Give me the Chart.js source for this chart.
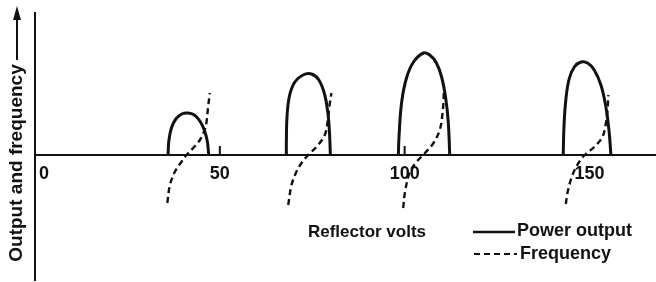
<!DOCTYPE html>
<html>
<head>
<meta charset="utf-8">
<script src="https://cdn.jsdelivr.net/npm/chart.js@4/dist/chart.umd.min.js"></script>
<style>
 html, body { margin: 0; padding: 0; background: #ffffff; }
 canvas { display: block; }
</style>
</head>
<body>
<canvas id="idCourbe" width="656" height="282"></canvas>
<script>
/******************************************* Valeurs **************************************************************************/
 var tickValues = [0, 50, 100, 150];                                                          /* Reflector volts, axe X */
 var tickLabels = ["0", "50", "100", "150"];
 var smallTicks = [50, 100];                                              /* Petits traits au dessus de l'axe sur l'original */

 /* Power output : [volts, output] */
 var power1 = [[36.0,0],[36.2,14],[36.9,27],[38.1,36],[39.7,41],[41.4,42],[43.1,40],[44.6,34],[45.8,25],[46.6,14],[47.0,0]];
 var power2 = [[68.0,0],[68.0,13],[68.2,40],[68.9,60],[70.3,73],[72.5,80],[74.8,81],[76.8,75],[78.4,60],[79.3,40],[79.7,20],[79.9,0]];
 var power3 = [[98.3,0],[98.5,20],[99.2,53],[100.5,77],[102.4,93],[105.1,102],[106.8,100],[108.6,92],[110.0,78],[111.1,57],[111.8,33],[112.2,0]];
 var power4 = [[142.9,0],[143.1,28],[143.6,55],[144.5,76],[145.9,88],[147.7,93],[149.5,92],[151.3,85],[153.1,70],[154.4,49],[155.3,24],[155.8,0]];

 /* Frequency : [volts, deviation] */
 var freq1 = [[35.8,-48],[36.5,-30],[37.8,-17],[39.4,-8],[41.0,0],[42.8,7],[44.6,15],[45.9,25],[46.4,33],[46.8,47],[47.3,62]];
 var freq2 = [[68.5,-50],[69.4,-30],[70.7,-17],[72.1,-8],[73.9,0],[76.1,8],[78.4,20],[79.3,37],[79.7,50],[80.2,62]];
 var freq3 = [[99.6,-53],[100.1,-37],[101.4,-17],[103.2,-7],[105.5,2],[107.8,12],[109.5,25],[110.2,40],[110.5,53],[110.6,63]];
 var freq4 = [[143.6,-49],[144.1,-37],[145.4,-20],[147.2,-7],[149.0,1],[151.3,8],[153.5,18],[154.4,31],[154.9,46],[155.1,60]];

 var xTitle = "Reflector volts";
 var yTitle = "Output and frequency";
 var encre  = "#111111";
 var police = "'Liberation Sans', Arial, sans-serif";

/******************************************* Construction des datasets ********************************************************/
 function Dataset_power ( valeurs )
  { return( { label: "Power output", data: valeurs, borderColor: encre, borderWidth: 3,
              pointRadius: 0, tension: 0.4, fill: false } ); }
 function Dataset_freq ( valeurs )
  { return( { label: "Frequency", data: valeurs, borderColor: encre, borderWidth: 2.4,
              borderDash: [6, 4], pointRadius: 0, tension: 0.35, fill: false } ); }

 var datasets = [ Dataset_power(power1), Dataset_power(power2), Dataset_power(power3), Dataset_power(power4),
                  Dataset_freq(freq1),   Dataset_freq(freq2),   Dataset_freq(freq3),   Dataset_freq(freq4) ];

/******************************************* Titres, fleche et legende ********************************************************/
 var Habillage =
  { id: "habillage",
    afterDraw: function (chart)
     { var ctx = chart.ctx;
       var xs  = chart.scales.x;
       var ys  = chart.scales.y;
       var y0  = ys.getPixelForValue(0);
       ctx.save();
       ctx.fillStyle = encre;
       ctx.strokeStyle = encre;

       ctx.lineWidth = 2;                                                           /* petits traits au dessus de l'axe */
       smallTicks.forEach( function (v)
        { var px = xs.getPixelForValue(v);
          ctx.beginPath(); ctx.moveTo(px, y0); ctx.lineTo(px, y0-9); ctx.stroke();
        });

       ctx.font = "bold 19px " + police;                                                         /* titre vertical + fleche */
       ctx.textAlign = "center";
       ctx.textBaseline = "middle";
       ctx.save();
       ctx.translate(17, 163);
       ctx.rotate(-Math.PI/2);
       ctx.fillText(yTitle, 0, 0);
       ctx.restore();
       ctx.lineWidth = 2;
       ctx.beginPath(); ctx.moveTo(17, 60); ctx.lineTo(17, 18); ctx.stroke();
       ctx.beginPath(); ctx.moveTo(17, 6); ctx.lineTo(13, 20); ctx.lineTo(21, 20); ctx.closePath(); ctx.fill();

       ctx.font = "bold 17px " + police;
       ctx.fillText(xTitle, 367, 232);                                                                      /* titre axe X */

       ctx.font = "bold 18px " + police;
       ctx.textAlign = "left";                                                                                /* legende */
       ctx.lineWidth = 2.5;
       ctx.beginPath(); ctx.moveTo(473, 232); ctx.lineTo(515, 232); ctx.stroke();
       ctx.fillText(datasets[0].label, 517, 231);
       ctx.lineWidth = 2.2;
       ctx.setLineDash(datasets[4].borderDash);
       ctx.beginPath(); ctx.moveTo(474, 254); ctx.lineTo(517, 254); ctx.stroke();
       ctx.setLineDash([]);
       ctx.fillText(datasets[4].label, 520, 254);
       ctx.restore();
     }
  };

/******************************************* Creation du graphe ***************************************************************/
 var chart = new Chart( document.getElementById("idCourbe").getContext("2d"),
  { type: "line",
    data: { datasets: datasets },
    plugins: [ Habillage ],
    options: { responsive: false, animation: false, devicePixelRatio: 1,
               layout: { padding: { left: 35, top: 13, right: 0, bottom: 2 } },
               plugins: { legend: { display: false }, tooltip: { enabled: false } },
               scales: { x: { type: "linear", min: 0, max: 168, position: { y: 0 },
                              afterBuildTicks: function (scale)
                               { scale.ticks = tickValues.map( function (v) { return( { value: v } ); } ); },
                              grid: { display: false, drawTicks: false },
                              border: { display: true, color: encre, width: 2 },
                              ticks: { color: encre, padding: 8, maxRotation: 0, autoSkip: false,
                                       font: { family: police, size: 18, weight: "bold" },
                                       callback: function (v) { var i = tickValues.indexOf(v);
                                                                if (i==0) return("\u2002\u2002"+tickLabels[0]);
                                                                return( i>=0 ? tickLabels[i] : "" ); }
                                     }
                            },
                         y: { type: "linear", min: -125, max: 142,
                              grid: { display: false, drawTicks: false },
                              border: { display: true, color: encre, width: 2 },
                              ticks: { display: false }
                            }
                       }
             }
  });
</script>
</body>
</html>
